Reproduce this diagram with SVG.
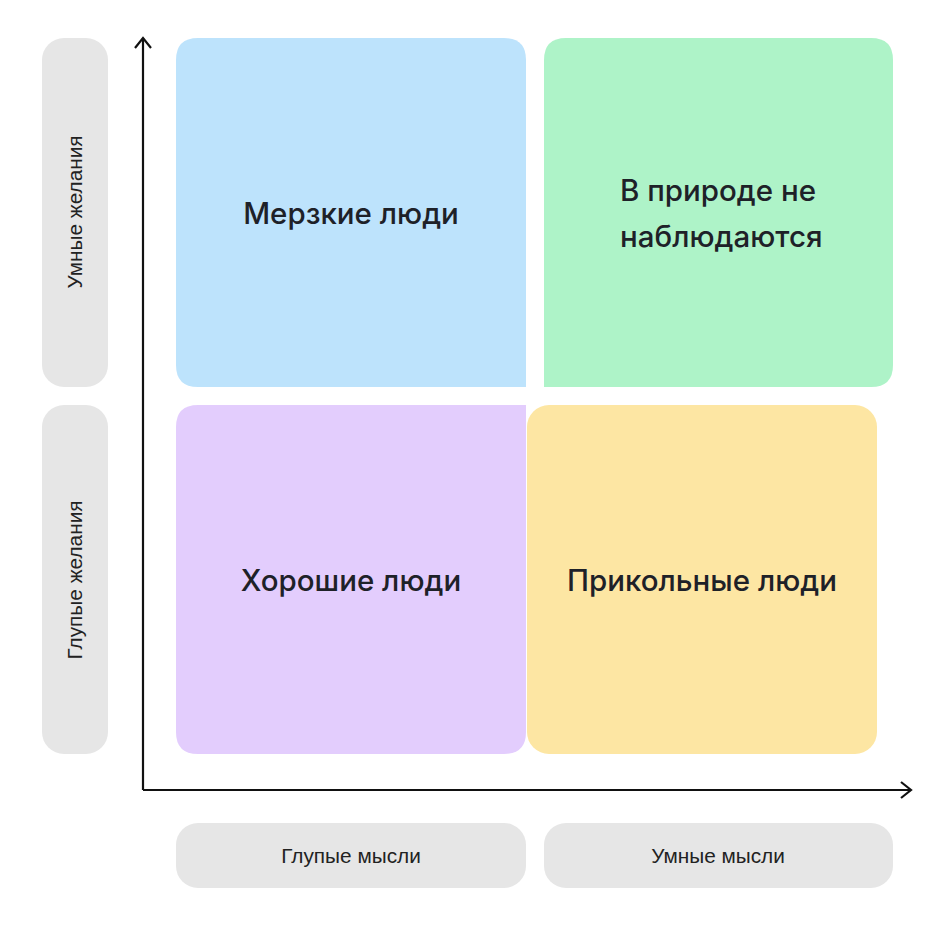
<svg xmlns="http://www.w3.org/2000/svg" width="942" height="928" viewBox="0 0 942 928">
<style>
.big{font-family:Inter,"Noto Sans",sans-serif;font-size:29.5px;font-weight:500;fill:#1e2128;text-anchor:middle}
.small{font-family:"Liberation Sans",Arial,sans-serif;font-size:20.8px;fill:#222;text-anchor:middle}
.lab{fill:#e6e6e6}
.axis{stroke:#111;stroke-width:2.2;fill:none}
</style>
<defs>
<marker id="arr" viewBox="0 0 14 20" refX="12" refY="10" markerWidth="14" markerHeight="20" markerUnits="userSpaceOnUse" orient="auto">
<path d="M2,2 L12,10 L2,18" fill="none" stroke="#111" stroke-width="2.2"/>
</marker>
</defs>
<rect width="942" height="928" fill="#fff"/>
<g id="blue">
<path d="M198,38 H504 Q526,38 526,60 V387 H198 Q176,387 176,365 V60 Q176,38 198,38 Z" fill="#bde3fc"/>
<text class="big" x="351" y="224">Мерзкие люди</text>
</g>
<g id="green">
<path d="M566,38 H871 Q893,38 893,60 V365 Q893,387 871,387 H544 V60 Q544,38 566,38 Z" fill="#aef3c8"/>
<text class="big" x="620" y="201" style="text-anchor:start">В природе не</text>
<text class="big" x="620" y="247" style="text-anchor:start">наблюдаются</text>
</g>
<g id="purple">
<path d="M198,405 H526 V732 Q526,754 504,754 H198 Q176,754 176,732 V427 Q176,405 198,405 Z" fill="#e3cdfd"/>
<text class="big" x="351" y="591">Хорошие люди</text>
</g>
<g id="yellow">
<rect x="527" y="405" width="350" height="349" rx="22" fill="#fde6a3"/>
<text class="big" x="702" y="591">Прикольные люди</text>
</g>
<g id="label-smart-desires">
<rect class="lab" x="42" y="38" width="66" height="349" rx="22"/>
<text class="small" transform="translate(82,212) rotate(-90)">Умные желания</text>
</g>
<g id="label-dumb-desires">
<rect class="lab" x="42" y="405" width="66" height="349" rx="22"/>
<text class="small" transform="translate(82,580) rotate(-90)">Глупые желания</text>
</g>
<g id="label-dumb-thoughts">
<rect class="lab" x="176" y="823" width="350" height="65" rx="22"/>
<text class="small" x="351" y="863">Глупые мысли</text>
</g>
<g id="label-smart-thoughts">
<rect class="lab" x="544" y="823" width="349" height="65" rx="22"/>
<text class="small" x="718" y="863">Умные мысли</text>
</g>
<g id="connectors">
<path class="axis" d="M143,790 V38" marker-end="url(#arr)"/>
<path class="axis" d="M143,790 H911" marker-end="url(#arr)"/>
</g>
</svg>
